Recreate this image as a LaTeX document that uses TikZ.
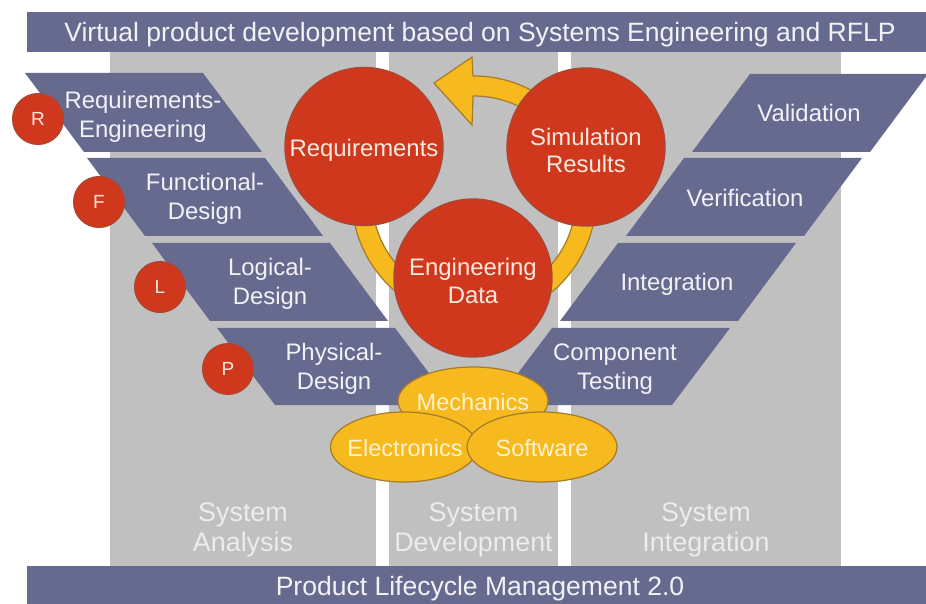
\documentclass[tikz,border=0pt]{standalone}
\usepackage{fontspec}
\setmainfont{Liberation Sans}
\usetikzlibrary{shapes.geometric,calc}
\definecolor{slate}{RGB}{103,106,143}
\definecolor{colgray}{RGB}{192,192,192}
\definecolor{cred}{RGB}{208,56,30}
\definecolor{credline}{RGB}{168,72,52}
\definecolor{cyel}{RGB}{247,186,30}
\definecolor{cyelline}{RGB}{165,124,42}
\definecolor{txtlight}{RGB}{242,242,246}
\definecolor{txtcirc}{RGB}{251,233,222}
\definecolor{txtell}{RGB}{255,242,205}
\definecolor{txtcol}{RGB}{236,236,236}
\begin{document}
\begin{tikzpicture}[x=0.02cm,y=-0.02cm,
  para/.style={fill=slate},
  ptext/.style={text=txtlight,align=center,inner sep=0pt,font=\fontsize{13.6}{16.2}\selectfont},
  smallc/.style={circle,fill=cred,draw=credline,line width=0.6pt,minimum size=1.02cm,inner sep=0pt,text=txtcirc,font=\fontsize{10.8}{12}\selectfont},
  bigc/.style={circle,fill=cred,draw=credline,line width=0.8pt,minimum size=3.16cm,inner sep=0pt},
  ctext/.style={text=txtcirc,align=center,inner sep=0pt,font=\fontsize{13.6}{15.8}\selectfont},
  ell/.style={ellipse,fill=cyel,draw=cyelline,line width=0.7pt,inner sep=0pt},
  etext/.style={text=txtell,inner sep=0pt,font=\fontsize{13.4}{15}\selectfont},
  ringband/.style={fill=cyel,draw=cyelline,line width=0.7pt},
  coltext/.style={text=txtcol,align=center,inner sep=0pt,font=\fontsize{15.3}{17}\selectfont},
  bantext/.style={text=txtlight,inner sep=0pt,font=\fontsize{15.1}{17}\selectfont}
]
\useasboundingbox (0,0) rectangle (926,604);
\fill[white] (0,0) rectangle (926,604);
% columns
\fill[colgray] (110,52) rectangle (376,566);
\fill[colgray] (389,52) rectangle (558,566);
\fill[colgray] (571,52) rectangle (841,566);
% banners
\fill[slate] (27,12) rectangle (926,52);
\fill[slate] (27,566) rectangle (926,604);
\node[bantext] (title) at (480,35) {Virtual product development based on Systems Engineering and RFLP};
\node[bantext] (plm) at (480,589) {Product Lifecycle Management 2.0};
% left parallelograms
\fill[para] (25,73) -- (203,73) -- (262,152) -- (84,152) -- cycle;
\fill[para] (87,158) -- (265,158) -- (323,236) -- (145,236) -- cycle;
\fill[para] (152,243) -- (330,243) -- (388,321) -- (210,321) -- cycle;
\fill[para] (217,328) -- (395,328) -- (453,405) -- (275,405) -- cycle;
% right parallelograms
\fill[para] (750,74) -- (928,74) -- (870,152) -- (692,152) -- cycle;
\fill[para] (684,158) -- (862,158) -- (804,236) -- (626,236) -- cycle;
\fill[para] (618,243) -- (796,243) -- (738,321) -- (560,321) -- cycle;
\fill[para] (552,328) -- (730,328) -- (672,405) -- (494,405) -- cycle;
% parallelogram texts
\node[ptext] (treqeng) at (143,117) {Requirements-\\Engineering};
\node[ptext] (tfunc) at (205,199) {Functional-\\Design};
\node[ptext] (tlog) at (270,284) {Logical-\\Design};
\node[ptext] (tphys) at (334,369) {Physical-\\Design};
\node[ptext] (tval) at (809,113) {Validation};
\node[ptext] (tver) at (745,198) {Verification};
\node[ptext] (tint) at (677,284) {Integration};
\node[ptext] (tcomp) at (615,369) {Component\\Testing};
% small circles
\node[smallc] (cR) at (38,119) {R};
\node[smallc] (cF) at (99,202) {F};
\node[smallc] (cL) at (160,287) {L};
\node[smallc] (cP) at (228,369) {P};
% ring arrow
\coordinate (rc) at (474,198);
\path[ringband] (434,83) -- (472,57) -- ($(rc)+(-90.5:122)$)
  arc[start angle=-90.5,end angle=240,radius=122]
  -- ($(rc)+(240:102)$)
  arc[start angle=240,end angle=-90.5,radius=102]
  -- (472,125) -- cycle;
% big circles
\node[bigc] (req) at (364,146.5) {};
\node[bigc] (sim) at (586,147) {};
\node[bigc] (eng) at (473,278) {};
\node[ctext] (treq) at (364,150.5) {Requirements};
\node[ctext] (tsim) at (586,150.5) {Simulation\\Results};
\node[ctext] (teng) at (473,281) {Engineering\\Data};
% ellipses
\node[ell,minimum width=3cm,minimum height=1.36cm] (mech) at (473,401) {};
\node[ell,minimum width=2.94cm,minimum height=1.4cm] (elec) at (404,447) {};
\node[ell,minimum width=3cm,minimum height=1.4cm] (soft) at (542,447) {};
\node[etext] (tmech) at (473,402) {Mechanics};
\node[etext] (telec) at (405,448) {Electronics};
\node[etext] (tsoft) at (542,448) {Software};
% column labels
\node[coltext] (lana) at (243,529.5) {System\\Analysis};
\node[coltext] (ldev) at (473.5,529.5) {System\\Development};
\node[coltext] (lint) at (706,529.5) {System\\Integration};
\end{tikzpicture}
\end{document}
